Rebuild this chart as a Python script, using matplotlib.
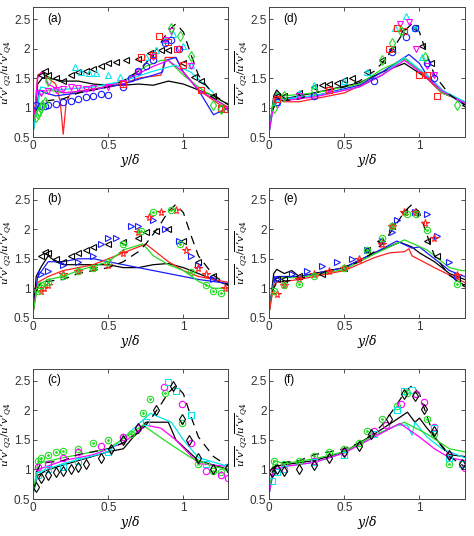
import matplotlib
matplotlib.use("Agg")
import matplotlib.pyplot as plt

plt.rcParams["font.family"] = ["Liberation Sans", "DejaVu Sans"]
plt.rcParams["mathtext.fontset"] = "dejavuserif"

# ---------------- dashed reference curve (same in every panel)
ref_x = [0.02, 0.05, 0.1, 0.2, 0.3, 0.4, 0.5, 0.6, 0.7, 0.75, 0.8, 0.85, 0.9, 0.95, 1.0, 1.05, 1.1, 1.2, 1.3]
ref_y = [0.95, 1.1, 1.12, 1.15, 1.25, 1.3, 1.35, 1.45, 1.62, 1.75, 1.92, 2.1, 2.3, 2.42, 2.28, 1.9, 1.55, 1.22, 1.05]

# ---------------- panel (a)
a_k_x = [0, 0.03, 0.06, 0.1, 0.2, 0.3, 0.4, 0.5, 0.6, 0.7, 0.8, 0.9, 1.0, 1.1, 1.2, 1.3]
a_k_y = [0.6, 1.4, 1.5, 1.5, 1.45, 1.45, 1.4, 1.38, 1.38, 1.4, 1.38, 1.45, 1.4, 1.3, 1.2, 1.05]
a_r_x = [0, 0.03, 0.06, 0.1, 0.15, 0.18, 0.2, 0.22, 0.25, 0.3, 0.4, 0.5, 0.6, 0.7, 0.85, 0.88, 0.95, 1.0, 1.1, 1.3]
a_r_y = [0.6, 1.55, 1.6, 1.5, 1.4, 1.1, 0.55, 1.1, 1.25, 1.28, 1.32, 1.35, 1.4, 1.5, 1.55, 1.85, 1.85, 1.6, 1.3, 0.95]
a_b_x = [0, 0.04, 0.08, 0.15, 0.3, 0.5, 0.6, 0.7, 0.8, 0.86, 0.88, 0.95, 1.0, 1.1, 1.2, 1.3]
a_b_y = [0.6, 1.3, 1.25, 1.2, 1.25, 1.35, 1.4, 1.48, 1.55, 1.6, 1.8, 1.85, 1.6, 1.3, 0.88, 1.0]
a_g_x = [0, 0.04, 0.1, 0.2, 0.4, 0.6, 0.75, 0.85, 0.9, 1.0, 1.1, 1.3]
a_g_y = [0.6, 1.2, 1.3, 1.25, 1.3, 1.45, 1.7, 1.8, 1.8, 1.55, 1.35, 1.0]
a_m_x = [0, 0.03, 0.06, 0.1, 0.2, 0.4, 0.6, 0.8, 0.9, 1.0, 1.1, 1.3]
a_m_y = [0.6, 1.5, 1.62, 1.4, 1.25, 1.3, 1.45, 1.7, 1.8, 1.6, 1.3, 1.0]
a_c_x = [0, 0.05, 0.15, 0.4, 0.6, 0.8, 0.95, 1.05, 1.2]
a_c_y = [0.6, 1.35, 1.3, 1.35, 1.45, 1.62, 1.72, 1.6, 1.25]

a_mk_k_x = [0.05, 0.08, 0.1, 0.15, 0.2, 0.25, 0.3, 0.35, 0.4, 0.45, 0.5, 0.55, 0.62, 0.7, 0.78, 0.85, 0.9, 1.0, 1.07, 1.12, 1.2]
a_mk_k_y = [1.55, 1.62, 1.55, 1.5, 1.45, 1.55, 1.6, 1.62, 1.65, 1.7, 1.75, 1.78, 1.8, 1.82, 1.92, 1.97, 1.97, 1.75, 1.52, 1.45, 1.2]
a_mk_c_x = [0.28, 0.32, 0.37, 0.42, 0.5, 0.58, 0.75, 0.82, 0.88, 0.93, 1.0, 1.05]
a_mk_c_y = [1.68, 1.6, 1.58, 1.58, 1.55, 1.52, 1.85, 1.97, 2.15, 2.25, 2.05, 1.72]
a_mk_m_x = [0.05, 0.1, 0.15, 0.2, 0.25, 0.3, 0.35, 0.4, 0.5, 0.6, 0.7, 0.8, 0.88, 0.92, 0.97, 1.05, 1.3]
a_mk_m_y = [1.25, 1.28, 1.3, 1.32, 1.35, 1.33, 1.32, 1.33, 1.35, 1.42, 1.6, 1.85, 2.15, 2.3, 2.0, 1.7, 0.98]
a_mk_b_x = [0.02, 0.05, 0.08, 0.1, 0.15, 0.2, 0.25, 0.3, 0.35, 0.4, 0.45, 0.5, 0.6, 0.65, 0.7, 0.75, 0.8, 0.88, 0.92, 0.97, 1.25]
a_mk_b_y = [1.05, 1.02, 1.03, 1.05, 1.07, 1.1, 1.12, 1.15, 1.18, 1.2, 1.23, 1.22, 1.35, 1.5, 1.62, 1.7, 1.8, 2.1, 2.15, 2.0, 0.98]
a_mk_r_x = [0.6, 0.72, 0.8, 0.84, 0.9, 0.96, 1.0, 1.12, 1.25, 1.28]
a_mk_r_y = [1.4, 1.85, 1.9, 2.22, 2.12, 2.0, 1.72, 1.3, 1.0, 0.98]
a_mk_g_x = [0.02, 0.03, 0.04, 0.05, 0.06, 0.08, 0.1, 0.92, 0.98, 1.05, 1.2, 1.25]
a_mk_g_y = [0.85, 0.9, 0.95, 1.0, 1.05, 1.1, 1.45, 2.35, 2.22, 1.87, 1.05, 0.97]

# ---------------- panel (b)
b_k_x = [0, 0.02, 0.05, 0.1, 0.15, 0.2, 0.35, 0.5, 0.6, 0.7, 0.8, 0.9, 1.0, 1.1, 1.2, 1.3]
b_k_y = [0.6, 1.2, 1.35, 1.55, 1.45, 1.4, 1.4, 1.4, 1.35, 1.35, 1.4, 1.42, 1.35, 1.25, 1.15, 1.05]
b_b_x = [0, 0.03, 0.1, 0.2, 0.3, 0.4, 0.5, 0.6, 0.7, 0.8, 0.9, 1.0, 1.1, 1.3]
b_b_y = [0.6, 1.2, 1.45, 1.45, 1.5, 1.5, 1.45, 1.4, 1.35, 1.3, 1.25, 1.2, 1.15, 1.08]
b_r_x = [0, 0.03, 0.1, 0.2, 0.4, 0.6, 0.75, 0.8, 0.9, 1.0, 1.1, 1.3]
b_r_y = [0.6, 1.1, 1.2, 1.3, 1.4, 1.6, 1.75, 1.65, 1.45, 1.3, 1.2, 1.1]
b_g_x = [0, 0.03, 0.1, 0.2, 0.3, 0.5, 0.6, 0.73, 0.8, 0.9, 1.0, 1.1, 1.2, 1.3]
b_g_y = [0.6, 1.05, 1.15, 1.2, 1.3, 1.45, 1.65, 1.75, 1.55, 1.4, 1.3, 1.12, 1.0, 1.0]

b_mk_k_x = [0.05, 0.08, 0.1, 0.15, 0.2, 0.25, 0.3, 0.35, 0.4, 0.5, 0.6, 0.7, 0.75, 0.82, 0.9, 1.0, 1.1, 1.2]
b_mk_k_y = [1.55, 1.62, 1.6, 1.5, 1.45, 1.55, 1.6, 1.65, 1.7, 1.75, 1.78, 1.85, 1.95, 1.97, 2.0, 1.8, 1.45, 1.2]
b_mk_b_x = [0.05, 0.1, 0.2, 0.3, 0.4, 0.45, 0.5, 0.55, 0.65, 0.7, 0.8, 0.88, 0.97, 1.05, 1.1, 1.2]
b_mk_b_y = [1.25, 1.3, 1.4, 1.45, 1.55, 1.75, 1.85, 1.85, 2.05, 2.05, 2.15, 2.0, 1.8, 1.55, 1.4, 1.15]
b_mk_r_x = [0.05, 0.07, 0.1, 0.2, 0.3, 0.4, 0.5, 0.6, 0.7, 0.77, 0.85, 0.95, 1.02, 1.1, 1.15, 1.28]
b_mk_r_y = [0.95, 1.0, 1.05, 1.25, 1.3, 1.35, 1.4, 1.6, 1.95, 2.2, 2.3, 2.32, 1.65, 1.35, 1.25, 1.0]
b_mk_g_x = [0.03, 0.05, 0.1, 0.2, 0.3, 0.4, 0.5, 0.6, 0.72, 0.8, 0.92, 0.98, 1.05, 1.15, 1.2, 1.25]
b_mk_g_y = [0.95, 1.05, 1.1, 1.2, 1.3, 1.35, 1.45, 1.75, 1.97, 2.3, 2.32, 1.75, 1.28, 1.05, 0.96, 0.92]

# ---------------- panel (c)
c_k_x = [0, 0.03, 0.1, 0.3, 0.5, 0.6, 0.75, 0.9, 0.95, 1.1, 1.3]
c_k_y = [0.6, 0.9, 1.0, 1.15, 1.3, 1.35, 1.8, 1.8, 1.5, 1.15, 1.0]
c_m_x = [0, 0.03, 0.2, 0.4, 0.6, 0.75, 0.85, 0.95, 1.1, 1.3]
c_m_y = [0.6, 1.0, 1.15, 1.25, 1.45, 1.75, 1.7, 1.5, 1.1, 1.05]
c_c_x = [0, 0.03, 0.2, 0.5, 0.78, 0.92, 1.0, 1.1, 1.3]
c_c_y = [0.6, 0.95, 1.1, 1.3, 1.95, 1.8, 1.5, 1.2, 1.05]
c_g_x = [0, 0.03, 0.2, 0.5, 0.73, 0.9, 1.05, 1.2, 1.3]
c_g_y = [0.6, 1.1, 1.2, 1.35, 1.75, 1.45, 1.2, 1.05, 1.0]

c_mk_k_x = [0.02, 0.05, 0.1, 0.15, 0.2, 0.25, 0.3, 0.35, 0.45, 0.52, 0.6, 0.7, 0.82, 0.93, 0.99, 1.04, 1.1, 1.2, 1.3]
c_mk_k_y = [0.7, 0.85, 0.9, 0.95, 0.97, 1.0, 1.05, 1.1, 1.2, 1.35, 1.5, 1.7, 2.0, 2.42, 1.85, 1.5, 1.2, 1.0, 1.03]
c_mk_g_x = [0.03, 0.05, 0.1, 0.15, 0.2, 0.3, 0.4, 0.5, 0.6, 0.65, 0.73, 0.78, 0.88, 0.99, 1.1, 1.2, 1.25]
c_mk_g_y = [1.15, 1.2, 1.25, 1.3, 1.32, 1.35, 1.45, 1.5, 1.55, 1.6, 1.95, 2.2, 2.3, 1.78, 1.1, 0.97, 0.95]
c_mk_m_x = [0.03, 0.1, 0.2, 0.3, 0.45, 0.6, 0.7, 0.87, 0.99, 1.05, 1.15, 1.25, 1.3]
c_mk_m_y = [1.05, 1.1, 1.2, 1.3, 1.4, 1.55, 1.7, 2.4, 2.1, 1.45, 0.98, 0.9, 0.85]
c_mk_c_x = [0.03, 0.1, 0.2, 0.3, 0.5, 0.75, 0.9, 0.95, 1.05, 1.15, 1.3]
c_mk_c_y = [0.9, 1.0, 1.05, 1.15, 1.3, 1.8, 2.48, 2.32, 1.92, 1.1, 1.05]

# ---------------- panel (d)
d_k_x = [0, 0.03, 0.05, 0.1, 0.3, 0.6, 0.75, 0.9, 1.05, 1.15, 1.3]
d_k_y = [0.6, 1.2, 1.3, 1.15, 1.25, 1.42, 1.6, 1.75, 1.5, 1.25, 1.1]
d_r_x = [0, 0.03, 0.05, 0.1, 0.2, 0.5, 0.75, 0.9, 1.05, 1.15, 1.3]
d_r_y = [0.6, 1.1, 1.2, 1.1, 1.1, 1.25, 1.55, 1.85, 1.5, 1.25, 1.1]
d_b_x = [0, 0.03, 0.05, 0.1, 0.3, 0.6, 0.75, 0.93, 1.0, 1.05, 1.15, 1.3]
d_b_y = [0.6, 1.15, 1.25, 1.15, 1.2, 1.38, 1.6, 1.9, 1.75, 1.55, 1.3, 1.05]
d_g_x = [0, 0.03, 0.05, 0.1, 0.3, 0.6, 0.75, 0.9, 1.05, 1.15, 1.3]
d_g_y = [0.6, 1.15, 1.25, 1.2, 1.25, 1.4, 1.65, 1.82, 1.55, 1.25, 1.1]
d_c_x = [0, 0.03, 0.05, 0.1, 0.3, 0.6, 0.75, 0.9, 1.05, 1.15, 1.3]
d_c_y = [0.6, 1.05, 1.15, 1.15, 1.2, 1.35, 1.55, 1.85, 1.55, 1.3, 1.1]
d_m_x = [0, 0.03, 0.05, 0.1, 0.3, 0.6, 0.75, 0.9, 1.05, 1.15, 1.3]
d_m_y = [0.6, 1.05, 1.15, 1.12, 1.18, 1.35, 1.55, 1.8, 1.52, 1.28, 1.08]

d_mk_k_x = [0.05, 0.1, 0.2, 0.3, 0.35, 0.4, 0.45, 0.5, 0.55, 0.65, 0.75, 0.82, 0.9, 0.97, 1.02, 1.08, 1.3]
d_mk_k_y = [1.2, 1.2, 1.25, 1.35, 1.38, 1.4, 1.42, 1.47, 1.5, 1.6, 1.8, 2.0, 2.3, 2.35, 2.05, 1.75, 1.05]
d_mk_c_x = [0.05, 0.2, 0.3, 0.5, 0.65, 0.84, 0.91, 0.97, 1.02]
d_mk_c_y = [1.1, 1.25, 1.38, 1.45, 1.6, 2.35, 2.55, 2.35, 1.85]
d_mk_m_x = [0.05, 0.2, 0.4, 0.87, 0.93, 0.98, 1.05, 1.1]
d_mk_m_y = [1.05, 1.2, 1.3, 2.42, 2.45, 2.0, 1.7, 1.55]
d_mk_b_x = [0.05, 0.3, 0.7, 0.82, 0.91, 0.97, 1.05, 1.1]
d_mk_b_y = [1.1, 1.2, 1.45, 1.95, 2.2, 2.35, 1.75, 1.5]
d_mk_r_x = [0.05, 0.4, 0.8, 0.85, 0.9, 1.0, 1.05, 1.12]
d_mk_r_y = [1.15, 1.3, 2.0, 2.35, 2.3, 1.55, 1.55, 1.2]
d_mk_g_x = [0.03, 0.1, 0.3, 0.75, 0.82, 0.88, 1.04, 1.25]
d_mk_g_y = [1.0, 1.2, 1.3, 1.8, 2.1, 2.3, 1.85, 1.05]

# ---------------- panel (e)
e_k_x = [0, 0.03, 0.05, 0.1, 0.15, 0.2, 0.5, 0.7, 0.87, 0.95, 1.0, 1.1, 1.2, 1.3]
e_k_y = [0.6, 1.25, 1.32, 1.25, 1.3, 1.2, 1.35, 1.6, 1.78, 1.7, 1.6, 1.45, 1.25, 1.15]
e_b_x = [0, 0.03, 0.05, 0.2, 0.5, 0.7, 0.85, 0.95, 1.0, 1.2, 1.3]
e_b_y = [0.6, 1.15, 1.2, 1.2, 1.35, 1.6, 1.8, 1.68, 1.7, 1.3, 1.2]
e_g_x = [0, 0.03, 0.05, 0.2, 0.5, 0.7, 0.9, 1.05, 1.2, 1.28, 1.3]
e_g_y = [0.6, 1.1, 1.18, 1.18, 1.32, 1.58, 1.82, 1.65, 1.35, 1.3, 1.3]
e_r_x = [0, 0.03, 0.05, 0.2, 0.5, 0.7, 0.8, 0.9, 0.93, 0.95, 1.1, 1.3]
e_r_y = [0.6, 1.05, 1.1, 1.15, 1.3, 1.52, 1.6, 1.62, 1.67, 1.55, 1.35, 1.1]

e_mk_k_x = [0.05, 0.1, 0.2, 0.35, 0.5, 0.65, 0.74, 0.82, 0.9, 0.97, 1.05, 1.12, 1.25, 1.3]
e_mk_k_y = [1.15, 1.15, 1.2, 1.25, 1.35, 1.65, 1.8, 2.05, 2.3, 2.28, 1.8, 1.55, 1.15, 1.05]
e_mk_b_x = [0.05, 0.15, 0.25, 0.35, 0.45, 0.55, 0.65, 0.75, 0.82, 0.85, 0.97, 1.05, 1.12, 1.2, 1.25]
e_mk_b_y = [1.15, 1.25, 1.3, 1.38, 1.45, 1.5, 1.65, 1.8, 1.95, 2.15, 2.3, 2.25, 1.88, 1.45, 1.2]
e_mk_r_x = [0.05, 0.1, 0.2, 0.3, 0.4, 0.5, 0.6, 0.75, 0.82, 0.9, 0.97, 1.04, 1.1, 1.25]
e_mk_r_y = [0.9, 1.05, 1.15, 1.25, 1.3, 1.35, 1.5, 1.75, 2.05, 2.3, 2.3, 2.1, 1.85, 1.22]
e_mk_g_x = [0.03, 0.1, 0.2, 0.3, 0.5, 0.65, 0.75, 0.82, 0.92, 0.98, 1.05, 1.25]
e_mk_g_y = [0.95, 1.05, 1.08, 1.2, 1.35, 1.65, 1.85, 2.05, 2.25, 2.25, 1.98, 1.08]

# ---------------- panel (f)
f_k_x = [0, 0.03, 0.1, 0.3, 0.5, 0.7, 0.85, 0.92, 0.97, 1.0, 1.05, 1.15, 1.2, 1.3]
f_k_y = [0.6, 1.05, 1.08, 1.15, 1.3, 1.6, 1.85, 1.97, 1.8, 1.87, 1.7, 1.4, 1.25, 1.22]
f_c_x = [0, 0.03, 0.1, 0.3, 0.5, 0.7, 0.85, 0.92, 0.95, 0.97, 1.05, 1.15, 1.3]
f_c_y = [0.6, 1.0, 1.05, 1.12, 1.28, 1.58, 1.75, 1.75, 1.58, 1.8, 1.55, 1.35, 1.2]
f_g_x = [0, 0.03, 0.1, 0.3, 0.5, 0.7, 0.9, 1.05, 1.2, 1.3]
f_g_y = [0.6, 1.15, 1.1, 1.18, 1.3, 1.58, 1.8, 1.6, 1.35, 1.3]
f_m_x = [0, 0.03, 0.1, 0.3, 0.5, 0.7, 0.87, 1.0, 1.1, 1.2, 1.3]
f_m_y = [0.6, 1.0, 1.05, 1.12, 1.28, 1.55, 1.78, 1.55, 1.35, 1.2, 1.15]

f_mk_k_x = [0.02, 0.05, 0.1, 0.2, 0.3, 0.4, 0.5, 0.6, 0.68, 0.8, 0.9, 0.97, 1.03, 1.1, 1.2, 1.28]
f_mk_k_y = [0.95, 1.0, 0.97, 1.0, 1.08, 1.2, 1.3, 1.4, 1.6, 1.85, 2.28, 2.25, 2.03, 1.65, 1.25, 1.1]
f_mk_g_x = [0.03, 0.1, 0.2, 0.3, 0.4, 0.5, 0.6, 0.65, 0.75, 0.85, 0.92, 1.05, 1.1, 1.2]
f_mk_g_y = [1.15, 1.1, 1.15, 1.22, 1.3, 1.35, 1.45, 1.65, 1.85, 2.08, 2.3, 1.85, 1.6, 1.1]
f_mk_m_x = [0.02, 0.1, 0.3, 0.5, 0.7, 0.78, 0.88, 0.98, 1.03, 1.1, 1.2, 1.3]
f_mk_m_y = [0.95, 1.0, 1.15, 1.3, 1.65, 1.75, 2.1, 2.28, 2.15, 1.72, 1.25, 1.03]
f_mk_c_x = [0.02, 0.05, 0.1, 0.3, 0.5, 0.7, 0.85, 0.9, 0.95, 1.1, 1.2, 1.28]
f_mk_c_y = [0.8, 0.95, 1.0, 1.12, 1.25, 1.6, 2.0, 2.33, 2.35, 1.7, 1.2, 1.1]

COL = {"k": "black", "r": "#ff2020", "g": "#22dd22", "b": "#1a1aff",
       "c": "#00e5ee", "m": "#ff00ff"}

panels = {
    "a": ([("k", a_k_x, a_k_y), ("r", a_r_x, a_r_y), ("b", a_b_x, a_b_y),
           ("g", a_g_x, a_g_y), ("m", a_m_x, a_m_y), ("c", a_c_x, a_c_y)],
          [("k", "<", a_mk_k_x, a_mk_k_y), ("c", "^", a_mk_c_x, a_mk_c_y),
           ("m", "v", a_mk_m_x, a_mk_m_y), ("b", "o", a_mk_b_x, a_mk_b_y),
           ("r", "s", a_mk_r_x, a_mk_r_y), ("g", "d", a_mk_g_x, a_mk_g_y)]),
    "b": ([("k", b_k_x, b_k_y), ("b", b_b_x, b_b_y), ("r", b_r_x, b_r_y),
           ("g", b_g_x, b_g_y)],
          [("k", "<", b_mk_k_x, b_mk_k_y), ("b", ">", b_mk_b_x, b_mk_b_y),
           ("r", "*", b_mk_r_x, b_mk_r_y), ("g", "o.", b_mk_g_x, b_mk_g_y)]),
    "c": ([("k", c_k_x, c_k_y), ("m", c_m_x, c_m_y), ("c", c_c_x, c_c_y),
           ("g", c_g_x, c_g_y)],
          [("g", "o.", c_mk_g_x, c_mk_g_y), ("m", "o", c_mk_m_x, c_mk_m_y),
           ("c", "s", c_mk_c_x, c_mk_c_y), ("k", "d", c_mk_k_x, c_mk_k_y)]),
    "d": ([("k", d_k_x, d_k_y), ("r", d_r_x, d_r_y), ("b", d_b_x, d_b_y),
           ("g", d_g_x, d_g_y), ("c", d_c_x, d_c_y), ("m", d_m_x, d_m_y)],
          [("k", "<", d_mk_k_x, d_mk_k_y), ("c", "^", d_mk_c_x, d_mk_c_y),
           ("m", "v", d_mk_m_x, d_mk_m_y), ("b", "o", d_mk_b_x, d_mk_b_y),
           ("r", "s", d_mk_r_x, d_mk_r_y), ("g", "d", d_mk_g_x, d_mk_g_y)]),
    "e": ([("k", e_k_x, e_k_y), ("b", e_b_x, e_b_y), ("g", e_g_x, e_g_y),
           ("r", e_r_x, e_r_y)],
          [("k", "<", e_mk_k_x, e_mk_k_y), ("b", ">", e_mk_b_x, e_mk_b_y),
           ("r", "*", e_mk_r_x, e_mk_r_y), ("g", "o.", e_mk_g_x, e_mk_g_y)]),
    "f": ([("k", f_k_x, f_k_y), ("c", f_c_x, f_c_y), ("g", f_g_x, f_g_y),
           ("m", f_m_x, f_m_y)],
          [("g", "o.", f_mk_g_x, f_mk_g_y), ("m", "o", f_mk_m_x, f_mk_m_y),
           ("c", "s", f_mk_c_x, f_mk_c_y), ("k", "d", f_mk_k_x, f_mk_k_y)]),
}

# axes boxes [left, bottom, width, height] in figure fraction
lefts = {"a": 0.07, "b": 0.07, "c": 0.07, "d": 0.568, "e": 0.568, "f": 0.568}
bottoms = {"a": 0.744, "d": 0.744, "b": 0.407, "e": 0.407, "c": 0.069, "f": 0.069}

# plain right-quote primes keep the overline close to the letters
YLAB = "$\\overline{u\u2019v\u2019}_{Q2}/\\overline{u\u2019v\u2019}_{Q4}$"

fig = plt.figure(figsize=(4.74, 5.36), dpi=100)
for name, (lines, marks) in panels.items():
    ax = fig.add_axes([lefts[name], bottoms[name], 0.412, 0.2425])
    for c, xs, ys in lines:
        ax.plot(xs, ys, color=COL[c], lw=0.9)
    ax.plot(ref_x, ref_y, color="black", lw=0.9, ls=(0, (7, 5)))
    for c, m, xs, ys in marks:
        ax.plot(xs, ys, ls="none", marker=m[0], ms=4.6 if m[0] != "*" else 5.8,
                mfc="none", mec=COL[c], mew=0.8)
        if m.endswith("."):
            ax.plot(xs, ys, ls="none", marker=".", ms=2.0, color=COL[c])
    ax.set_xlim(0, 1.3)
    ax.set_ylim(0.5, 2.7)
    ax.set_xticks([0, 0.5, 1])
    ax.set_xticklabels(["0", "0.5", "1"])
    ax.set_yticks([0.5, 1, 1.5, 2, 2.5])
    ax.set_yticklabels(["0.5", "1", "1.5", "2", "2.5"])
    ax.tick_params(direction="in", top=True, right=True, length=3,
                   width=0.6, labelsize=8.5, pad=2, colors="#333333")
    for s in ax.spines.values():
        s.set_linewidth(0.7)
        s.set_color("#444444")
    ax.text(0.07, 0.89, f"({name})", transform=ax.transAxes, fontsize=8.5)
    ax.set_xlabel(r"$y/\delta$", fontsize=9, labelpad=0)
    ax.set_ylabel(YLAB, fontsize=7.5)
    ax.yaxis.set_label_coords(-0.1, 0.5)

fig.savefig("out.png", dpi=100)
